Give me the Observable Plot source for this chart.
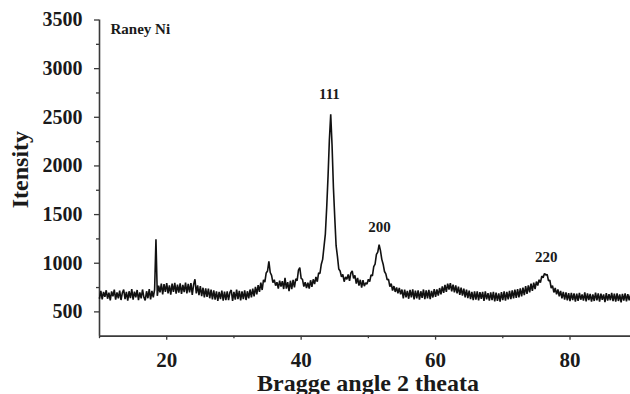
<!DOCTYPE html>
<html>
<head>
<meta charset="utf-8">
<script src="https://cdn.jsdelivr.net/npm/d3@7"></script>
<script src="https://cdn.jsdelivr.net/npm/@observablehq/plot@0.6"></script>
<style>
  html, body { margin: 0; padding: 0; background: #fff; }
  #chart { width: 630px; height: 394px; overflow: hidden; }
</style>
</head>
<body>
<div id="chart"></div>
<script>
// Sampling grid of the scan (2θ, degrees)
const angleStart = 10;
const angleStep = 0.2;

// Intensity, one row per degree (d.0, d.2, d.4, d.6, d.8)
const intensity = [
  640, 715, 628, 705, 655,   // 10
  722, 635, 698, 618, 710,   // 11
  660, 728, 625, 700, 640,   // 12
  718, 622, 695, 730, 632,   // 13
  705, 615, 712, 642, 735,   // 14
  625, 708, 650, 725, 620,   // 15
  700, 638, 730, 652, 618,   // 16
  712, 640, 735, 628, 715,   // 17
  650, 730, 1245, 665, 770,  // 18
  700, 790, 680, 785, 705,   // 19
  795, 690, 772, 678, 790,   // 20
  705, 798, 688, 780, 698,   // 21
  792, 684, 778, 702, 800,   // 22
  690, 788, 700, 795, 675,   // 23
  780, 835, 690, 772, 672,   // 24
  765, 662, 748, 650, 742,   // 25
  655, 738, 640, 728, 628,   // 26
  722, 625, 712, 612, 705,   // 27
  630, 718, 615, 708, 622,   // 28
  712, 620, 700, 725, 612,   // 29
  705, 625, 728, 632, 715,   // 30
  618, 710, 630, 722, 622,   // 31
  712, 640, 730, 648, 738,   // 32
  660, 758, 680, 775, 705,   // 33
  800, 725, 830, 805, 900,   // 34
  920, 1020, 905, 875, 800,  // 35
  830, 770, 805, 740, 820,   // 36
  760, 815, 735, 850, 740,   // 37
  805, 712, 820, 735, 830,   // 38
  752, 840, 820, 930, 955,   // 39
  845, 835, 760, 805, 745,   // 40
  800, 740, 825, 758, 835,   // 41
  785, 860, 810, 900, 895,   // 42
  990, 1040, 1170, 1300, 1570, // 43
  1890, 2270, 2530, 2210, 1780, // 44
  1470, 1180, 1070, 940, 920, // 45
  860, 885, 810, 860, 835,   // 46
  885, 820, 900, 920, 845,   // 47
  875, 790, 850, 770, 830,   // 48
  750, 825, 765, 800, 785,   // 49
  835, 810, 880, 870, 965,   // 50
  990, 1090, 1115, 1190, 1130, // 51
  1040, 990, 915, 890, 830,  // 52
  835, 760, 790, 720, 765,   // 53
  705, 752, 690, 745, 680,   // 54
  730, 640, 728, 650, 715,   // 55
  635, 725, 648, 732, 628,   // 56
  718, 638, 722, 625, 712,   // 57
  645, 730, 632, 720, 640,   // 58
  725, 630, 715, 648, 735,   // 59
  655, 730, 668, 745, 680,   // 60
  762, 695, 778, 705, 790,   // 61
  730, 795, 712, 780, 700,   // 62
  772, 690, 760, 675, 748,   // 63
  668, 740, 650, 728, 642,   // 64
  718, 630, 705, 622, 710,   // 65
  625, 712, 618, 702, 635,   // 66
  705, 612, 710, 628, 692,   // 67
  615, 700, 620, 705, 608,   // 68
  698, 612, 690, 605, 702,   // 69
  622, 710, 615, 705, 628,   // 70
  715, 630, 720, 640, 728,   // 71
  645, 735, 650, 742, 660,   // 72
  748, 672, 765, 685, 772,   // 73
  700, 790, 715, 800, 735,   // 74
  812, 770, 830, 800, 868,   // 75
  850, 895, 880, 885, 820,   // 76
  825, 745, 770, 700, 745,   // 77
  680, 730, 660, 715, 640,   // 78
  705, 625, 700, 618, 692,   // 79
  610, 695, 620, 690, 605,   // 80
  688, 612, 695, 625, 680,   // 81
  615, 700, 608, 690, 622,   // 82
  685, 605, 680, 612, 698,   // 83
  618, 690, 605, 688, 625,   // 84
  680, 600, 692, 615, 682,   // 85
  620, 695, 610, 688, 605,   // 86
  690, 612, 680, 598, 685,   // 87
  615, 690, 608, 682, 620,   // 88
  675                        // 89
];

// Axis ticks
const xMajorTicks = [20, 40, 60, 80];
const xMinorTicks = [10, 30, 50, 70];
const yMajorTicks = [500, 1000, 1500, 2000, 2500, 3000, 3500];
const yMinorTicks = [750, 1250, 1750, 2250, 2750, 3250];

// Peak annotations
const peakLabels = ["111", "200", "220"];
const peakAngles = [44.2, 51.67, 76.47];
const peakLabelHeights = [2691, 1321, 1013];

const sampleName = "Raney Ni";
const xTitle = "Bragge angle 2 theata";
const yTitle = "Itensity";

const scan = intensity.map((v, i) => ({
  angle: +(angleStart + i * angleStep).toFixed(1),
  intensity: v
}));
const peaks = peakLabels.map((t, i) => ({ label: t, angle: peakAngles[i], y: peakLabelHeights[i] }));

const font = "'Liberation Serif', 'Times New Roman', Times, serif";
const axisColor = "#3a3a3a";
const fmt = d => String(d);

const chart = Plot.plot({
  width: 630,
  height: 394,
  marginLeft: 99,
  marginRight: 0,
  marginTop: 19.5,
  marginBottom: 58.3,
  style: { fontFamily: font, fontWeight: "bold", color: "#1a1a1a", background: "#fff" },
  x: { domain: [10, 89] },
  y: { domain: [250, 3500] },
  marks: [
    Plot.axisX({ ticks: xMajorTicks, tickFormat: fmt, tickSize: 4, tickPadding: 12, fontSize: 21, fontWeight: "bold", label: null, stroke: axisColor, strokeWidth: 1.3 }),
    Plot.axisX({ ticks: xMinorTicks, tickSize: 2.5, text: null, label: null, stroke: axisColor, strokeWidth: 1.3 }),
    Plot.axisY({ ticks: yMajorTicks, tickFormat: fmt, tickSize: 5, tickPadding: 12, fontSize: 20, fontWeight: "bold", label: null, stroke: axisColor, strokeWidth: 1.3 }),
    Plot.axisY({ ticks: yMinorTicks, tickSize: 3, text: null, label: null, stroke: axisColor, strokeWidth: 1.3 }),
    Plot.ruleX([10], { stroke: axisColor, strokeWidth: 1.6 }),
    Plot.ruleY([250], { stroke: axisColor, strokeWidth: 1.8 }),
    Plot.line(scan, { x: "angle", y: "intensity", stroke: "#111", strokeWidth: 1.6, strokeLinejoin: "miter" }),
    Plot.text(peaks, { x: "angle", y: "y", text: "label", lineAnchor: "bottom", textAnchor: "middle", fontSize: 15, fontWeight: "bold", fill: "#1a1a1a" }),
    Plot.text([sampleName], { x: 11.64, y: 3351, lineAnchor: "bottom", textAnchor: "start", fontSize: 15, fontWeight: "bold", fill: "#1a1a1a" }),
    Plot.text([yTitle], { frameAnchor: "left", rotate: -90, textAnchor: "middle", lineAnchor: "middle", dx: -79, dy: -8.5, fontSize: 24, fontWeight: "bold", fill: "#1a1a1a" }),
    Plot.text([xTitle], { frameAnchor: "bottom", textAnchor: "middle", dx: 3, dy: 55, lineAnchor: "bottom", fontSize: 24, fontWeight: "bold", fill: "#1a1a1a" })
  ]
});
document.getElementById("chart").appendChild(chart);
</script>
</body>
</html>
